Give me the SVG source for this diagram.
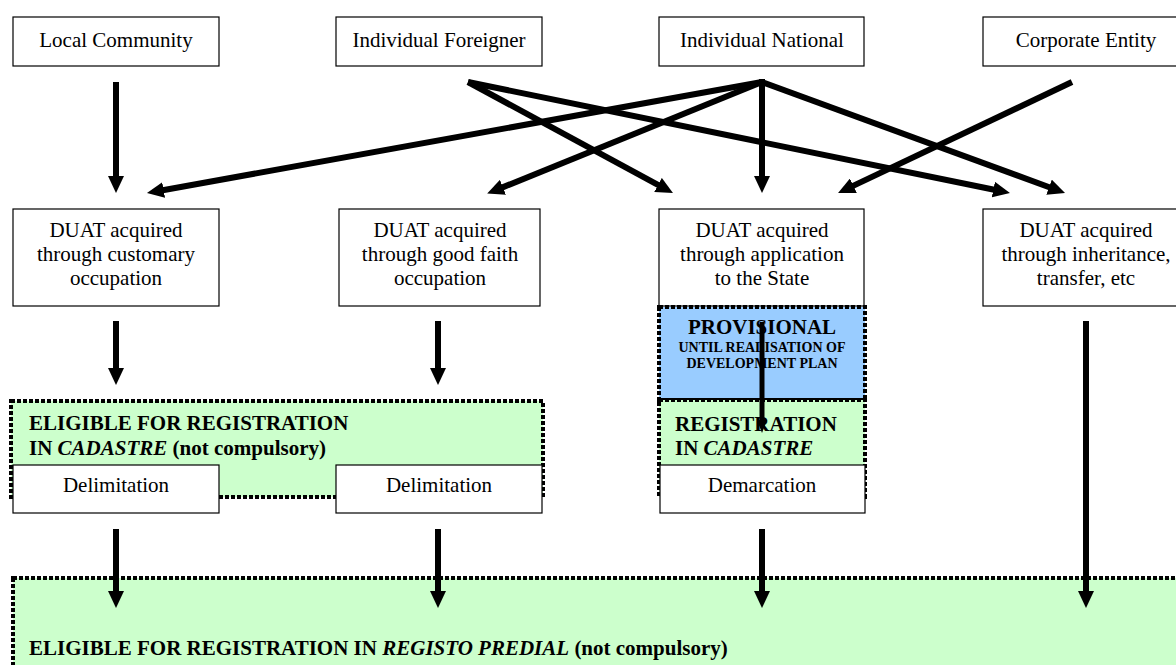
<svg xmlns="http://www.w3.org/2000/svg" width="1176" height="665" viewBox="0 0 1176 665">
<style>
.box{fill:#fff;stroke:#000;stroke-width:1.2}
.dot{stroke:#000;stroke-width:4;stroke-dasharray:4 2}
.green{fill:#ccffcc}
.blue{fill:#99ccff}
.t{font-family:"Liberation Serif","Times New Roman",serif;font-size:21px;fill:#000}
.c{text-anchor:middle}
.b{font-weight:bold}
.i{font-style:italic}
.s{font-size:14px}
.ln{stroke:#000;stroke-width:6;fill:none}
.ln2{stroke:#000;stroke-width:5;fill:none}
</style>
<defs>
<marker id="ah" markerUnits="userSpaceOnUse" viewBox="0 0 17 16" markerWidth="17" markerHeight="16" refX="1" refY="8" orient="auto">
<path d="M0,0 L17,8 L0,16 z" fill="#000"/>
</marker>
<marker id="ahs" markerUnits="userSpaceOnUse" viewBox="0 0 13 10" markerWidth="13" markerHeight="10" refX="1" refY="5" orient="auto">
<path d="M0,0 L13,5 L0,10 z" fill="#000"/>
</marker>
</defs>

<g id="regions">
<rect id="registo-predial" class="green dot" x="13" y="578" width="1180" height="100"/>
</g>

<g id="n-local-community"><rect class="box" x="13" y="17" width="206" height="49"/><text class="t c" x="116" y="47">Local Community</text></g>
<g id="n-individual-foreigner"><rect class="box" x="336" y="17" width="206" height="49"/><text class="t c" x="439" y="47">Individual Foreigner</text></g>
<g id="n-individual-national"><rect class="box" x="659" y="17" width="205" height="49"/><text class="t c" x="762" y="47">Individual National</text></g>
<g id="n-corporate-entity"><rect class="box" x="983" y="17" width="206" height="49"/><text class="t c" x="1086" y="47">Corporate Entity</text></g>

<g id="n-duat-customary"><rect class="box" x="13" y="209" width="206" height="97"/><text class="t c" x="116" y="237">DUAT acquired</text><text class="t c" x="116" y="261">through customary</text><text class="t c" x="116" y="285">occupation</text></g>
<g id="n-duat-goodfaith"><rect class="box" x="339" y="209" width="201" height="97"/><text class="t c" x="440" y="237">DUAT acquired</text><text class="t c" x="440" y="261">through good faith</text><text class="t c" x="440" y="285">occupation</text></g>
<g id="n-duat-application"><rect class="box" x="659" y="209" width="205" height="97"/><text class="t c" x="762" y="237">DUAT acquired</text><text class="t c" x="762" y="261">through application</text><text class="t c" x="762" y="285">to the State</text></g>
<g id="n-duat-inheritance"><rect class="box" x="983" y="209" width="206" height="97"/><text class="t c" x="1086" y="237">DUAT acquired</text><text class="t c" x="1086" y="261">through inheritance,</text><text class="t c" x="1086" y="285">transfer, etc</text></g>

<g id="n-eligible-cadastre">
<rect class="green dot" x="11" y="401" width="532" height="96"/>
<text class="t b" x="29" y="430">ELIGIBLE FOR REGISTRATION</text>
<text class="t b" x="29" y="455">IN <tspan class="i">CADASTRE</tspan> (not compulsory)</text>
</g>
<g id="n-delimitation-1"><rect class="box" x="13" y="465" width="206" height="48"/><text class="t c" x="116" y="492">Delimitation</text></g>
<g id="n-delimitation-2"><rect class="box" x="336" y="465" width="206" height="48"/><text class="t c" x="439" y="492">Delimitation</text></g>

<g id="n-provisional">
<rect class="blue dot" x="659" y="307" width="206" height="93"/>
<text class="t b c" x="762" y="334">PROVISIONAL</text>
<text class="t b c s" x="762" y="352">UNTIL REALISATION OF</text>
<text class="t b c s" x="762" y="368">DEVELOPMENT PLAN</text>
</g>
<g id="n-registration-cadastre">
<rect class="green dot" x="659" y="400" width="206" height="97"/>
<text class="t b" x="675" y="431">REGISTRATION</text>
<text class="t b" x="675" y="455">IN <tspan class="i">CADASTRE</tspan></text>
</g>
<g id="n-demarcation"><rect class="box" x="660" y="465" width="205" height="48"/><text class="t c" x="762" y="492">Demarcation</text></g>

<g id="n-registo-predial-label">
<text class="t b" x="29" y="655">ELIGIBLE FOR REGISTRATION IN <tspan class="i">REGISTO PREDIAL</tspan> (not compulsory)</text>
</g>

<g id="connectors">
<line class="ln" x1="116" y1="82" x2="116" y2="177" marker-end="url(#ah)"/>
<line class="ln" x1="468" y1="82" x2="658.9" y2="185.4" marker-end="url(#ah)"/>
<line class="ln" x1="468" y1="82" x2="994.3" y2="189.8" marker-end="url(#ah)"/>
<line class="ln" x1="762" y1="82" x2="162.7" y2="190.2" marker-end="url(#ah)"/>
<line class="ln" x1="762" y1="82" x2="502" y2="187.6" marker-end="url(#ah)"/>
<line class="ln" x1="762" y1="79" x2="762" y2="177" marker-end="url(#ah)"/>
<line class="ln" x1="762" y1="82" x2="1050" y2="187.5" marker-end="url(#ah)"/>
<line class="ln" x1="1072" y1="82" x2="852.5" y2="186.1" marker-end="url(#ah)"/>
<line class="ln" x1="116" y1="321" x2="116" y2="369" marker-end="url(#ah)"/>
<line class="ln" x1="438" y1="321" x2="438" y2="369" marker-end="url(#ah)"/>
<line class="ln2" x1="762" y1="322" x2="762" y2="421" marker-end="url(#ahs)"/>
<line class="ln" x1="1086" y1="321" x2="1086" y2="592" marker-end="url(#ah)"/>
<line class="ln" x1="116" y1="529" x2="116" y2="592" marker-end="url(#ah)"/>
<line class="ln" x1="438" y1="529" x2="438" y2="592" marker-end="url(#ah)"/>
<line class="ln" x1="762" y1="529" x2="762" y2="592" marker-end="url(#ah)"/>
</g>
</svg>
